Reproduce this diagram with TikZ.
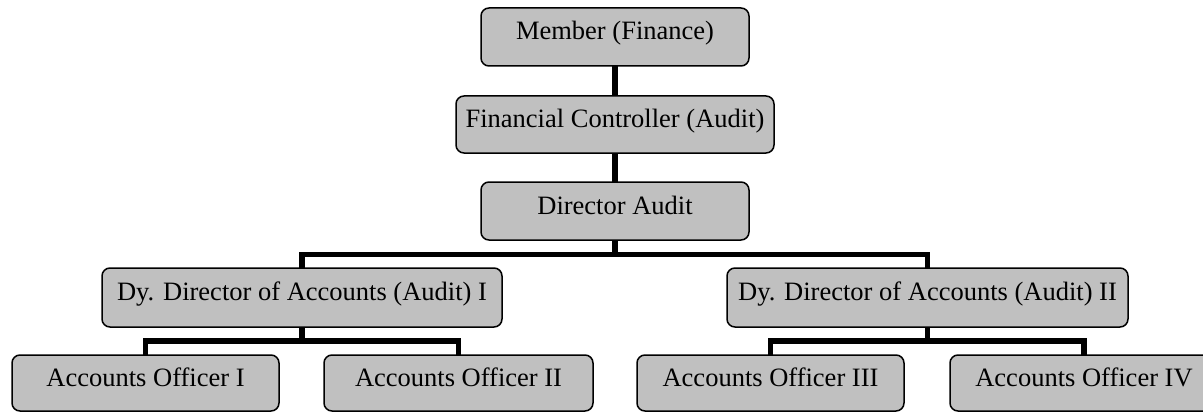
\documentclass[tikz,border=0pt]{standalone}
\usepackage{fontspec}
\setmainfont{Liberation Serif}
\definecolor{boxgray}{RGB}{192,192,192}
\begin{document}
\begin{tikzpicture}[x=1pt,y=-1pt,
  orgbox/.style={draw=black, fill=boxgray, line width=1.5pt, rounded corners=8pt,
    rectangle, inner sep=0pt, outer sep=0pt, text height=18pt, text depth=12pt,
    font=\fontsize{26.5}{30}\selectfont, align=center},
  conn/.style={draw=black, line width=5.5pt, line join=miter}]
\useasboundingbox (0,0) rectangle (1203,412);
\clip (0,0) rectangle (1203,412);
\node[orgbox, minimum width=268pt, minimum height=58pt] (m) at (615,37) {Member (Finance)};
\node[orgbox, minimum width=318pt, minimum height=57pt] (fc) at (615,124.5) {Financial Controller (Audit)};
\node[orgbox, minimum width=268pt, minimum height=58pt] (dir) at (615,211) {Director Audit};
\node[orgbox, minimum width=400pt, minimum height=59pt] (d1) at (302,297.5) {Dy. Director of Accounts (Audit) I};
\node[orgbox, minimum width=401pt, minimum height=59pt] (d2) at (927.5,297.5) {Dy. Director of Accounts (Audit) II};
\node[orgbox, minimum width=267pt, minimum height=56pt] (a1) at (145.5,383) {Accounts Officer I};
\node[orgbox, minimum width=269pt, minimum height=56pt] (a2) at (458.5,383) {Accounts Officer II};
\node[orgbox, minimum width=267pt, minimum height=56pt] (a3) at (770.5,383) {Accounts Officer III};
\node[orgbox, minimum width=268pt, minimum height=56pt] (a4) at (1084,383) {Accounts Officer IV};
\coordinate (b0) at (615,254.5);
\coordinate (b1) at (302,341);
\coordinate (b2) at (927.5,341);
\draw[conn] (m.south) -- (fc.north);
\draw[conn] (fc.south) -- (dir.north);
\draw[conn] (dir.south) -- (b0);
\draw[conn] (d1.north) |- (b0) -| (d2.north);
\draw[conn] (d1.south) -- (b1);
\draw[conn] (a1.north) |- (b1) -| (a2.north);
\draw[conn] (d2.south) -- (b2);
\draw[conn] (a3.north) |- (b2) -| (a4.north);
\end{tikzpicture}
\end{document}
